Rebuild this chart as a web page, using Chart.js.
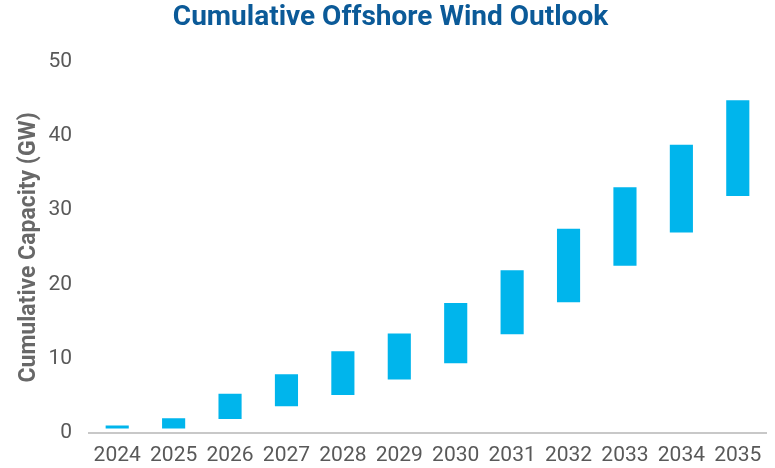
<!DOCTYPE html>
<html>
<head>
<meta charset="utf-8">
<script src="https://cdn.jsdelivr.net/npm/chart.js@4/dist/chart.umd.min.js"></script>
<style>
  html, body { margin: 0; padding: 0; background: #ffffff; }
  #wrap { width: 775px; height: 468px; }
</style>
</head>
<body>
<div id="wrap"><canvas id="c" width="775" height="468"></canvas></div>
<script>
const years = ["2024","2025","2026","2027","2028","2029","2030","2031","2032","2033","2034","2035"];
const lowGW  = [0.6, 0.6, 1.9, 3.6, 5.1, 7.2, 9.4, 13.3, 17.6, 22.5, 27.0, 31.9];
const highGW = [1.0, 2.0, 5.3, 7.9, 11.0, 13.4, 17.5, 21.9, 27.5, 33.1, 38.8, 44.8];
const yTicks = [0, 10, 20, 30, 40, 50];
const titleText = "Cumulative Offshore Wind Outlook";
const yTitle = "Cumulative Capacity (GW)";

const ranges = years.map((y, i) => [lowGW[i], highGW[i]]);

new Chart(document.getElementById('c'), {
  type: 'bar',
  data: {
    labels: years,
    datasets: [{
      label: 'Cumulative capacity range',
      data: ranges,
      backgroundColor: '#00b5ec',
      borderWidth: 0,
      borderSkipped: false,
      categoryPercentage: 1.0,
      barPercentage: 0.41
    }]
  },
  options: {
    responsive: false,
    animation: false,
    layout: { padding: { left: 15, right: 9, top: 0, bottom: 0 } },
    plugins: {
      legend: { display: false },
      tooltip: { enabled: false },
      title: {
        display: true,
        text: titleText,
        color: '#0b5a98',
        font: { family: 'Roboto', size: 28, weight: 'bold' },
        padding: { top: 1, bottom: 27 }
      }
    },
    scales: {
      x: {
        grid: { display: false, drawTicks: false },
        border: { display: true, color: '#c8c8c8', width: 2 },
        ticks: {
          color: '#595959',
          font: { family: 'Roboto', size: 21 },
          padding: 10,
          maxRotation: 0,
          autoSkip: false
        },
        afterFit: (axis) => { axis.height = 35; }
      },
      y: {
        min: 0,
        max: 50,
        afterBuildTicks: (axis) => { axis.ticks = yTicks.map(v => ({ value: v })); },
        grid: { display: false, drawTicks: false },
        border: { display: false },
        ticks: {
          color: '#595959',
          font: { family: 'Roboto', size: 21 },
          padding: 17
        },
        title: {
          display: true,
          text: yTitle,
          color: '#686868',
          font: { family: 'Roboto', size: 23, weight: 'bold' },
          padding: { top: 0, bottom: 4 }
        },
        afterFit: (axis) => { axis.width = 74; }
      }
    }
  }
});
</script>
</body>
</html>
